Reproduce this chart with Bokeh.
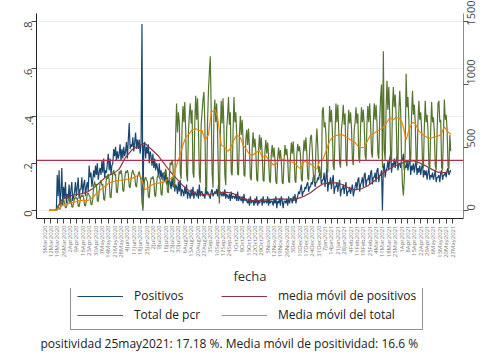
import numpy as np
import pandas as pd
from bokeh.plotting import figure
from bokeh.layouts import column
from bokeh.models import (Range1d, LinearAxis, FixedTicker, CustomJSTickFormatter,
                          Span, Legend, LegendItem, Label)
from bokeh.embed import file_html
from bokeh.resources import INLINE

# ---------------- data (daily from 10 Mar 2020) ----------------
inicio = "2020-03-10"

positivos = [
    0, 0, 0, 0, 0, 0, 0,
    0, 0, 0.15, 0.06, 0.17, 0.02, 0.08,
    0.18, 0.02, 0.10, 0.05, 0.12, 0.03, 0.07,
    0.05, 0.11, 0.03, 0.09, 0.12, 0.04, 0.06,
    0.08, 0.12, 0.06, 0.10, 0.14, 0.05, 0.09,
    0.09, 0.14, 0.07, 0.11, 0.13, 0.06, 0.10,
    0.12, 0.08, 0.19, 0.14, 0.16, 0.10, 0.13,
    0.17, 0.14, 0.19, 0.15, 0.20, 0.13, 0.16,
    0.18, 0.15, 0.21, 0.16, 0.22, 0.14, 0.17,
    0.16, 0.20, 0.24, 0.17, 0.22, 0.15, 0.19,
    0.20, 0.26, 0.23, 0.27, 0.21, 0.25, 0.22,
    0.24, 0.28, 0.21, 0.26, 0.22, 0.27, 0.23,
    0.25, 0.29, 0.22, 0.30, 0.37, 0.26, 0.28,
    0.27, 0.31, 0.25, 0.29, 0.33, 0.26, 0.30,
    0.26, 0.30, 0.24, 0.28, 0.79, 0.00, 0.27,
    0.29, 0.22, 0.27, 0.24, 0.28, 0.20, 0.25,
    0.23, 0.19, 0.24, 0.18, 0.22, 0.17, 0.20,
    0.18, 0.15, 0.20, 0.14, 0.17, 0.13, 0.16,
    0.15, 0.12, 0.17, 0.11, 0.14, 0.10, 0.13,
    0.12, 0.09, 0.14, 0.10, 0.13, 0.08, 0.11,
    0.10, 0.07, 0.12, 0.08, 0.13, 0.06, 0.09,
    0.08, 0.06, 0.10, 0.07, 0.11, 0.05, 0.08,
    0.07, 0.05, 0.09, 0.06, 0.10, 0.05, 0.08,
    0.07, 0.06, 0.09, 0.05, 0.11, 0.06, 0.08,
    0.08, 0.06, 0.07, 0.05, 0.10, 0.07, 0.08,
    0.07, 0.06, 0.05, 0.08, 0.09, 0.06, 0.07,
    0.08, 0.07, 0.09, 0.06, 0.11, 0.05, 0.08,
    0.07, 0.06, 0.08, 0.06, 0.09, 0.05, 0.07,
    0.06, 0.05, 0.07, 0.04, 0.08, 0.05, 0.06,
    0.06, 0.05, 0.07, 0.04, 0.08, 0.04, 0.06,
    0.05, 0.04, 0.06, 0.03, 0.07, 0.04, 0.05,
    0.04, 0.03, 0.05, 0.02, 0.06, 0.03, 0.04,
    0.04, 0.02, 0.05, 0.03, 0.06, 0.02, 0.04,
    0.03, 0.04, 0.05, 0.02, 0.06, 0.03, 0.04,
    0.04, 0.03, 0.06, 0.02, 0.05, 0.03, 0.04,
    0.04, 0.02, 0.05, 0.03, 0.06, 0.01, 0.04,
    0.03, 0.05, 0.02, 0.06, 0.04, 0.01, 0.04,
    0.04, 0.03, 0.05, 0.02, 0.06, 0.03, 0.05,
    0.05, 0.03, 0.06, 0.04, 0.07, 0.03, 0.05,
    0.06, 0.08, 0.07, 0.09, 0.11, 0.06, 0.08,
    0.08, 0.10, 0.09, 0.11, 0.12, 0.08, 0.10,
    0.10, 0.12, 0.11, 0.14, 0.15, 0.10, 0.12,
    0.12, 0.14, 0.13, 0.16, 0.15, 0.11, 0.13,
    0.13, 0.16, 0.10, 0.14, 0.18, 0.08, 0.12,
    0.11, 0.14, 0.09, 0.13, 0.15, 0.07, 0.10,
    0.10, 0.12, 0.08, 0.11, 0.13, 0.06, 0.09,
    0.09, 0.11, 0.07, 0.10, 0.12, 0.06, 0.08,
    0.08, 0.10, 0.07, 0.09, 0.11, 0.06, 0.08,
    0.10, 0.12, 0.09, 0.13, 0.14, 0.08, 0.11,
    0.12, 0.14, 0.10, 0.15, 0.16, 0.10, 0.13,
    0.13, 0.15, 0.11, 0.16, 0.17, 0.11, 0.14,
    0.14, 0.16, 0.12, 0.17, 0.18, 0.12, 0.15,
    0.15, 0.17, 0.00, 0.18, 0.20, 0.14, 0.17,
    0.18, 0.21, 0.17, 0.22, 0.24, 0.16, 0.20,
    0.19, 0.22, 0.18, 0.21, 0.23, 0.17, 0.20,
    0.20, 0.18, 0.22, 0.21, 0.24, 0.17, 0.19,
    0.18, 0.21, 0.17, 0.20, 0.22, 0.15, 0.19,
    0.17, 0.20, 0.16, 0.19, 0.21, 0.15, 0.18,
    0.16, 0.19, 0.15, 0.18, 0.20, 0.14, 0.17,
    0.15, 0.17, 0.13, 0.16, 0.18, 0.13, 0.15,
    0.14, 0.16, 0.13, 0.15, 0.17, 0.12, 0.14,
    0.14, 0.15, 0.12, 0.16, 0.17, 0.13, 0.15,
    0.15, 0.16, 0.14, 0.17, 0.18, 0.15, 0.16,
    0.1718,
]

total_pcr = [
    0, 0, 0, 0, 0, 0, 0,
    0, 0, 20, 40, 15, 10, 35,
    70, 60, 90, 55, 20, 25, 50,
    80, 95, 70, 100, 30, 25, 60,
    95, 110, 90, 100, 35, 30, 70,
    120, 110, 125, 100, 40, 35, 80,
    130, 140, 120, 110, 50, 45, 90,
    200, 230, 190, 210, 80, 70, 150,
    220, 240, 200, 210, 90, 80, 160,
    270, 250, 290, 240, 110, 100, 200,
    300, 320, 280, 290, 150, 140, 230,
    310, 290, 320, 280, 160, 150, 240,
    310, 300, 320, 290, 190, 180, 250,
    300, 320, 290, 280, 200, 185, 260,
    290, 310, 270, 240, 60, 20, 150,
    250, 265, 240, 230, 110, 100, 200,
    260, 250, 270, 240, 120, 110, 210,
    270, 280, 260, 250, 130, 120, 230,
    300, 290, 330, 280, 150, 140, 260,
    380, 360, 400, 350, 180, 200, 600,
    850, 620, 780, 700, 300, 250, 650,
    830, 700, 860, 640, 280, 230, 620,
    760, 850, 690, 800, 300, 260, 700,
    910, 720, 890, 650, 280, 220, 680,
    780, 880, 940, 700, 200, 150, 700,
    950, 1100, 1225, 800, 300, 180, 750,
    880, 700, 850, 620, 250, 55, 600,
    870, 690, 890, 650, 280, 200, 650,
    750, 900, 680, 780, 300, 280, 620,
    900, 700, 780, 610, 290, 280, 600,
    750, 600, 720, 560, 280, 270, 560,
    640, 520, 650, 500, 260, 240, 500,
    620, 500, 570, 470, 250, 230, 480,
    600, 480, 580, 450, 240, 230, 470,
    560, 450, 540, 430, 240, 220, 450,
    520, 420, 500, 400, 230, 210, 420,
    500, 410, 480, 390, 220, 210, 400,
    520, 440, 490, 400, 230, 220, 420,
    540, 450, 550, 430, 240, 220, 440,
    530, 470, 510, 440, 250, 230, 450,
    560, 470, 580, 450, 260, 240, 470,
    580, 600, 480, 300, 220, 240, 500,
    650, 520, 300, 350, 280, 260, 790,
    820, 660, 700, 600, 330, 300, 600,
    830, 700, 800, 640, 350, 320, 620,
    850, 700, 840, 650, 380, 340, 640,
    720, 840, 680, 770, 400, 350, 650,
    800, 690, 780, 660, 410, 360, 640,
    700, 820, 690, 770, 420, 380, 660,
    820, 700, 800, 680, 440, 400, 680,
    830, 700, 850, 690, 460, 420, 700,
    850, 720, 840, 700, 450, 410, 720,
    900, 1000, 340, 1264, 480, 400, 800,
    1030, 800, 980, 760, 430, 380, 820,
    980, 820, 920, 760, 400, 360, 780,
    950, 800, 400, 200, 120, 250, 500,
    1085, 820, 900, 720, 420, 380, 760,
    950, 760, 840, 700, 400, 360, 700,
    870, 720, 780, 650, 380, 340, 660,
    870, 700, 760, 640, 360, 330, 640,
    860, 700, 740, 620, 350, 320, 620,
    850, 870, 700, 720, 340, 320, 620,
    880, 720, 760, 640, 350, 330, 600,
    470,
]

# weekly values (every 7 days from 10 Mar 2020)
media_positivos = [
    0, 0, 0.045, 0.06, 0.066, 0.07, 0.078, 0.095, 0.12, 0.145,
    0.155, 0.175, 0.225, 0.257, 0.275, 0.285, 0.26, 0.235, 0.20, 0.165,
    0.135, 0.105, 0.083, 0.072, 0.066, 0.067, 0.073, 0.076, 0.077, 0.07,
    0.057, 0.046, 0.042, 0.043, 0.045, 0.047, 0.049, 0.048, 0.045, 0.05,
    0.06, 0.075, 0.096, 0.113, 0.117, 0.117, 0.11, 0.095, 0.087, 0.092,
    0.105, 0.125, 0.15, 0.17, 0.185, 0.197, 0.207, 0.211, 0.203, 0.19,
    0.175, 0.162, 0.16, 0.166,
]

# twice weekly (week start and 3 days later)
media_total = [
    0, 0, 0, 10, 35, 50, 55, 60, 65, 75,
    80, 80, 80, 85, 110, 135, 160, 180, 200, 220,
    228, 235, 240, 242, 245, 250, 255, 265, 280, 265,
    165, 175, 200, 210, 215, 220, 225, 240, 250, 265,
    360, 420, 520, 580, 610, 640, 650, 635, 635, 560,
    600, 780, 800, 740, 520, 510, 470, 490, 560, 600,
    580, 520, 480, 445, 440, 460, 475, 420, 435, 400,
    370, 357, 395, 410, 400, 390, 385, 380, 350, 330,
    390, 385, 370, 350, 330, 390, 410, 470, 550, 580,
    595, 600, 600, 590, 570, 555, 540, 510, 500, 500,
    560, 600, 615, 630, 645, 660, 700, 735, 720, 740,
    730, 690, 560, 640, 700, 690, 630, 610, 590, 575,
    575, 585, 590, 600, 665, 630, 605,
]

umbral = 0.212
tick_inicio = "2020-03-05"
tick_fin = "2021-05-27"
etiquetas_leyenda = ["Positivos", "media móvil de positivos", "Total de pcr", "Media móvil del total"]
colores = ["#1a476f", "#90353b", "#55752f", "#e8850c"]
nota = "positividad 25may2021: 17.18 %. Media móvil de positividad: 16.6 %"

# ---------------- build ----------------
t0 = pd.Timestamp(inicio)
dias = pd.date_range(t0, periods=len(positivos), freq="D")
dias_pcr = pd.date_range(t0, periods=len(total_pcr), freq="D")
semanas = pd.date_range(t0, periods=len(media_positivos), freq="7D")
fechas_mt = [t0 + pd.Timedelta(days=7 * (i // 2) + 3 * (i % 2)) for i in range(len(media_total))]

ticks = pd.date_range(tick_inicio, tick_fin, freq="7D")
tick_ms = [int(t.value // 10**6) for t in ticks]

FONT = "Open Sans"
scale = 1875.0
y0, y1 = -0.034, 0.834
W = 500
FL, FR = 36, 463   # frame left / right edge (px)

p = figure(width=W, height=288, x_axis_type="datetime",
           x_range=Range1d(pd.Timestamp("2020-02-25 05:00"), pd.Timestamp("2021-06-08")),
           y_range=Range1d(y0, y1),
           output_backend="svg", toolbar_location=None,
           min_border_left=FL, min_border_right=W - FR, min_border_top=13, min_border_bottom=70)
p.extra_y_ranges = {"pcr": Range1d(y0 * scale, y1 * scale)}
p.outline_line_color = None
p.background_fill_color = "white"
p.border_fill_color = "white"

p.xgrid.grid_line_color = None
p.ygrid.grid_line_color = "#e6eff1"
p.ygrid.grid_line_width = 1

r1 = p.line(dias, positivos, line_color=colores[0], line_width=1.2)
r2 = p.line(semanas, media_positivos, line_color=colores[1], line_width=1.2)
r3 = p.line(dias_pcr, total_pcr, line_color=colores[2], line_width=1.2, y_range_name="pcr")
r4 = p.line(fechas_mt, media_total, line_color=colores[3], line_width=1.2, y_range_name="pcr")

p.add_layout(Span(location=umbral, dimension="width", line_color="#b5304a", line_width=1.2))

ya = p.yaxis[0]
ya.ticker = FixedTicker(ticks=[0, 0.2, 0.4, 0.6, 0.8])
ya.formatter = CustomJSTickFormatter(code="return tick == 0 ? '0' : tick.toFixed(1).replace(/^0/, '');")
ya.major_label_orientation = np.pi / 2
ya.major_label_text_font = FONT
ya.major_label_text_font_size = "11px"
ya.major_label_text_color = "#444444"
ya.axis_line_color = "#222222"
ya.major_tick_line_color = "#444444"
ya.major_tick_out = 5
ya.major_tick_in = 0
ya.minor_tick_line_color = None
ya.major_label_standoff = 3

ra = LinearAxis(y_range_name="pcr", ticker=FixedTicker(ticks=[0, 500, 1000, 1500]))
ra.major_label_orientation = np.pi / 2
ra.major_label_text_font = FONT
ra.major_label_text_font_size = "11px"
ra.major_label_text_color = "#444444"
ra.axis_line_color = "#888888"
ra.major_tick_line_color = "#555555"
ra.major_tick_out = 5
ra.major_tick_in = 0
ra.minor_tick_line_color = None
ra.major_label_standoff = 3
p.add_layout(ra, "right")

xa = p.xaxis[0]
xa.ticker = FixedTicker(ticks=tick_ms)
xa.formatter = CustomJSTickFormatter(code="""
const m = ['Jan','Feb','Mar','Apr','May','Jun','Jul','Aug','Sep','Oct','Nov','Dec'];
const d = new Date(tick);
return d.getUTCDate() + m[d.getUTCMonth()] + d.getUTCFullYear();
""")
xa.major_label_orientation = np.pi / 2
xa.major_label_text_font = FONT
xa.major_label_text_font_size = "6px"
xa.major_label_text_color = "#777777"
xa.axis_line_color = "#222222"
xa.major_tick_line_color = "#444444"
xa.major_tick_out = 5
xa.major_tick_in = 0
xa.minor_tick_line_color = None
xa.major_label_standoff = 2
xa.axis_label = "fecha"
xa.axis_label_text_font = FONT
xa.axis_label_text_font_style = "normal"
xa.axis_label_text_font_size = "13px"
xa.axis_label_text_color = "#333333"
xa.axis_label_standoff = 6

# ---------------- legend + note panel ----------------
# (the column aligns this panel's frame with the plot frame: FL..FR)
H2 = 76
q = figure(width=W, height=H2, x_range=Range1d(FL, FR), y_range=Range1d(0, H2),
           x_axis_location=None, y_axis_location=None,
           output_backend="svg", toolbar_location=None,
           min_border_left=FL, min_border_right=W - FR, min_border_top=0, min_border_bottom=0)
q.grid.grid_line_color = None
q.outline_line_color = None
q.background_fill_color = "white"
q.border_fill_color = "white"

# legend swatches only (kept outside the visible range)
dummies = [q.line(x=[-50, -40], y=[-50, -50], line_color=c, line_width=1.2) for c in colores]
items = [LegendItem(label=lab, renderers=[r]) for lab, r in zip(etiquetas_leyenda, dummies)]
leg = Legend(items=items, location=(70 - FL, 34), orientation="horizontal", ncols=2,
             label_text_font=FONT, label_text_font_size="12px", label_text_color="#222222",
             glyph_width=46, glyph_height=14, label_standoff=11, spacing=2,
             label_width=85, padding=6, margin=0, label_height=14,
             border_line_color="#222222", border_line_width=1,
             background_fill_color="white", background_fill_alpha=1)
q.add_layout(leg, "center")

q.add_layout(Label(x=40, y=21, text=nota, text_font=FONT, text_font_size="12px",
                   text_color="#222222", text_baseline="middle"))

layout = column(p, q, spacing=0)
open("out.html", "w").write(file_html(layout, INLINE))
